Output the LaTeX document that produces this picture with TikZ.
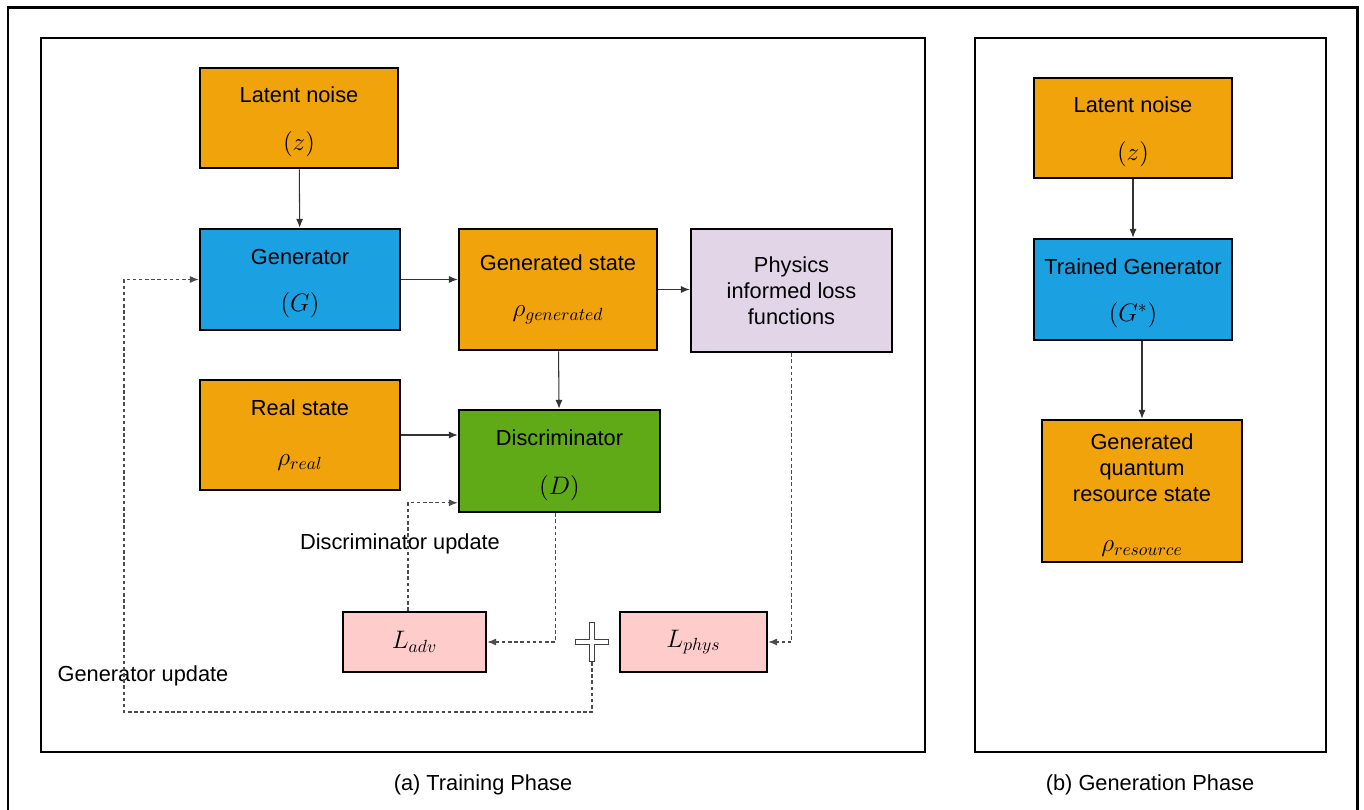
\documentclass[tikz,border=0pt]{standalone}
\usepackage[no-math]{fontspec}
\setmainfont{Liberation Sans}
\usetikzlibrary{arrows.meta,calc}
\definecolor{orng}{HTML}{F0A30A}
\definecolor{blu}{HTML}{1BA1E2}
\definecolor{grn}{HTML}{60A917}
\definecolor{lav}{HTML}{E1D5E7}
\definecolor{pnk}{HTML}{FFCCCC}
\newcommand{\mth}[1]{{\fontsize{14}{16}\selectfont$#1$}}
\newcommand{\tp}{\rule{0pt}{13.5pt}}

\begin{document}
\begin{tikzpicture}[x=0.02cm,y=-0.02cm,
  every node/.style={font=\fontsize{12.4}{14.7}\selectfont},
  box/.style={draw,line width=1.5pt,align=center,inner sep=0pt},
  orbox/.style={box,fill=orng},
  flow/.style={-{Latex[length=5pt,width=4pt]},line width=0.6pt,black!80},
  upd/.style={-{Latex[length=5pt,width=4pt]},line width=0.6pt,black!70,dash pattern=on 2pt off 1.5pt}]
\useasboundingbox (0,0) rectangle (1364,810);
\draw[line width=1.7pt] (8,8) rectangle (1357,850);
\draw[line width=1.2pt] (41,38) rectangle (925,752);
\draw[line width=1.2pt] (975,38) rectangle (1326,752);
\node[orbox,minimum width=3.96cm,minimum height=2cm] (noise) at (299,118) {\tp Latent noise\\[12.5pt]\mth{(z)}};
\node[box,fill=blu,minimum width=4cm,minimum height=2.02cm] (gen) at (300,279.5) {\tp Generator\\[12pt]\mth{(G)}};
\node[orbox,minimum width=3.96cm,minimum height=2.42cm] (gstate) at (558,289.5) {Generated state\\[11.7pt]\mth{\rho_{generated}}};
\node[box,fill=lav,minimum width=4.02cm,minimum height=2.46cm] (phys) at (791.5,290.5) {Physics\\informed loss\\functions};
\node[orbox,minimum width=4cm,minimum height=2.2cm] (real) at (300,435) {Real state\\[13.5pt]\mth{\rho_{real}}};
\node[box,fill=grn,minimum width=4.02cm,minimum height=2.04cm] (disc) at (559.5,461) {\tp Discriminator\\[13pt]\mth{(D)}};
\node[box,fill=pnk,minimum width=2.86cm,minimum height=1.2cm] (ladv) at (414.5,642) {\mth{L_{adv}}};
\node[box,fill=pnk,minimum width=2.94cm,minimum height=1.2cm] (lphys) at (693.5,642) {\mth{L_{phys}}};
\coordinate (plus) at (592,642);
\coordinate (gu) at (124,712);
\draw[line width=3.2pt,black!75] ($(plus)+(-17,0)$) -- ($(plus)+(17,0)$) ($(plus)+(0,-20)$) -- ($(plus)+(0,20)$);
\draw[line width=1.8pt,white] ($(plus)+(-16,0)$) -- ($(plus)+(16,0)$) ($(plus)+(0,-19)$) -- ($(plus)+(0,19)$);
\node (du) at (400,544) {Discriminator update};
\node (gulab) at (143,676) {Generator update};
\node (capa) at (483,785) {(a) Training Phase};
\node[orbox,minimum width=3.96cm,minimum height=2cm] (noise2) at (1133,128) {\tp Latent noise\\[12.5pt]\mth{(z)}};
\node[box,fill=blu,minimum width=3.96cm,minimum height=2.02cm] (tgen) at (1133,289.5) {\tp Trained Generator\\[12pt]\mth{(G^*)}};
\node[orbox,minimum width=4cm,minimum height=2.84cm] (res) at (1142,491) {\tp Generated\\quantum\\resource state\\[13.9pt]\mth{\rho_{resource}}};
\node (capb) at (1150,785) {(b) Generation Phase};
\draw[flow] (noise) -- (gen);
\draw[flow] (gen.east) -- (gen.east -| gstate.west);
\draw[flow] (gstate.east) -- (gstate.east -| phys.west);
\draw[flow] (gstate) -- (disc);
\draw[flow] (real.east) -- (real.east -| disc.west);
\draw[flow] (noise2) -- (tgen);
\draw[flow] (tgen.south -| res.north) -- (res.north);
\draw[upd] ([xshift=-2.5pt]disc.south) |- (ladv.east);
\draw[upd] (phys.south) |- (lphys.east);
\draw[upd] ([xshift=-3.7pt]ladv.north) |- ([yshift=6pt]disc.south west);
\draw[upd] ($(plus)+(0,20)$) -- (plus |- gu) -- (gu) |- (gen.west);
\end{tikzpicture}
\end{document}
